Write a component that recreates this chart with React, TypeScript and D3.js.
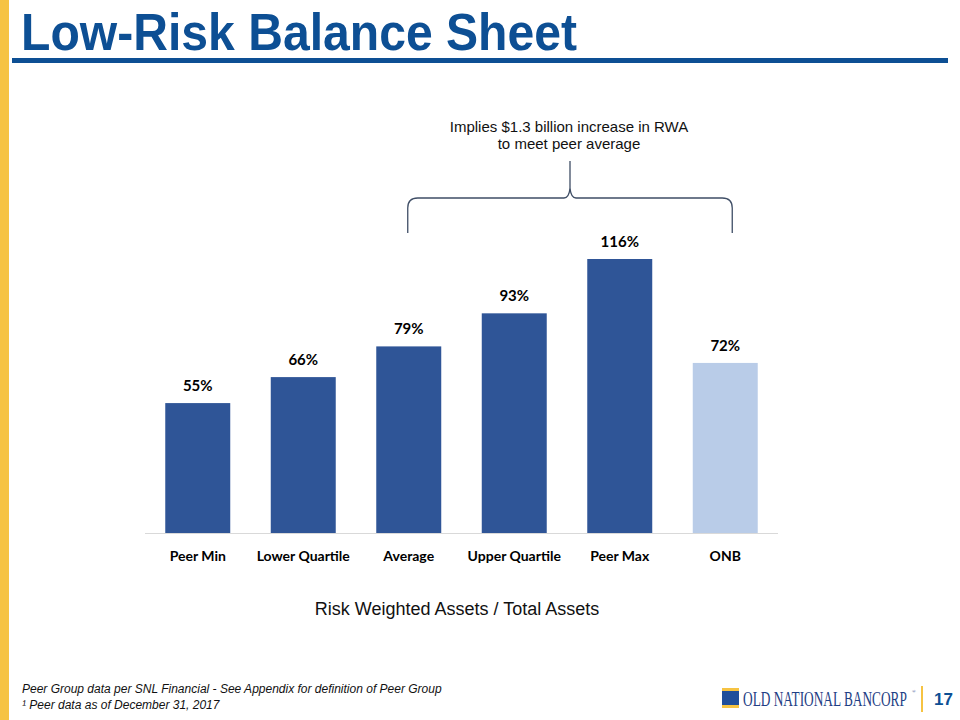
import * as d3 from 'd3';

const categories = ['Peer Min', 'Lower Quartile', 'Average', 'Upper Quartile', 'Peer Max', 'ONB'];
const values = [55, 66, 79, 93, 116, 72];
const highlight = ['ONB'];

const titleText = 'Low-Risk Balance Sheet';
const noteLines = ['Implies $1.3 billion increase in RWA', 'to meet peer average'];
const axisTitle = 'Risk Weighted Assets / Total Assets';
const footnotes = [
  'Peer Group data per SNL Financial - See Appendix for definition of Peer Group',
  '¹ Peer data as of December 31, 2017',
];

const W = 960;
const H = 720;
const BLUE = '#0D4F94';
const BAR = '#2F5597';
const BAR_LIGHT = '#B9CCE8';
const GOLD = '#F6C342';

export default function App() {
  // chart area
  const x = d3.scaleBand<string>()
    .domain(categories)
    .range([145, 778])
    .paddingInner(0.384)
    .paddingOuter(0.192);

  const y = d3.scaleLinear()
    .domain([0, 116])
    .range([533, 259]);

  const labelFont = 'Lato, "Open Sans", sans-serif';

  // brace from Average to ONB
  const bx0 = (x('Average') ?? 0) + x.bandwidth() / 2 - 1;
  const bx1 = (x('ONB') ?? 0) + x.bandwidth() / 2 + 7;
  const bmid = (bx0 + bx1) / 2;
  const byTop = 198;
  const byEnd = 233;
  const byPeak = 161;
  const bracePath = [
    `M ${bx0} ${byEnd}`,
    `L ${bx0} ${byTop + 10}`,
    `Q ${bx0} ${byTop} ${bx0 + 10} ${byTop}`,
    `L ${bmid - 6} ${byTop}`,
    `Q ${bmid - 1} ${byTop} ${bmid} ${byTop - 10}`,
    `L ${bmid} ${byPeak}`,
    `M ${bmid} ${byTop - 10}`,
    `Q ${bmid + 1} ${byTop} ${bmid + 6} ${byTop}`,
    `L ${bx1 - 10} ${byTop}`,
    `Q ${bx1} ${byTop} ${bx1} ${byTop + 10}`,
    `L ${bx1} ${byEnd}`,
  ].join(' ');

  return (
    <svg width={W} height={H} viewBox={`0 0 ${W} ${H}`}
      style={{ position: 'absolute', left: 0, top: 0, background: '#fff' }}>
      {/* left accent bar */}
      <rect x={0} y={0} width={9} height={H} fill={GOLD} />

      {/* title */}
      <text x={21} y={50} fill={BLUE} fontFamily='"Liberation Sans", Arial, sans-serif'
        fontWeight="bold" fontSize={52} textLength={556} lengthAdjust="spacingAndGlyphs">
        {titleText}
      </text>
      <rect x={12} y={58} width={936} height={5} fill={BLUE} />

      {/* annotation */}
      {noteLines.map((t, i) => (
        <text key={t} x={569} y={132 + i * 17} textAnchor="middle" fill="#111"
          fontFamily='"Liberation Sans", Arial, sans-serif' fontSize={15}>
          {t}
        </text>
      ))}
      <path d={bracePath} fill="none" stroke="#3F4E66" strokeWidth={1.3} />

      {/* baseline */}
      <line x1={145} x2={778} y1={y(0) + 0.5} y2={y(0) + 0.5} stroke="#D9D9D9" strokeWidth={1} />

      {/* bars */}
      {categories.map((c, i) => (
        <g key={c}>
          <rect x={x(c)} y={y(values[i])} width={x.bandwidth()} height={y(0) - y(values[i])}
            fill={highlight.includes(c) ? BAR_LIGHT : BAR} />
          <text x={(x(c) ?? 0) + x.bandwidth() / 2} y={y(values[i]) - 12}
            textAnchor="middle" fontFamily={labelFont} fontWeight="bold" fontSize={15} fill="#000">
            {values[i]}%
          </text>
          <text x={(x(c) ?? 0) + x.bandwidth() / 2} y={561}
            textAnchor="middle" fontFamily={labelFont} fontWeight="bold" fontSize={14} fill="#000">
            {c}
          </text>
        </g>
      ))}

      {/* axis title */}
      <text x={457} y={615} textAnchor="middle" fill="#111"
        fontFamily='"Liberation Sans", Arial, sans-serif' fontSize={18}>
        {axisTitle}
      </text>

      {/* footnotes */}
      {footnotes.map((t, i) => (
        <text key={t} x={22} y={693 + i * 16} fill="#111" fontStyle="italic"
          fontFamily='"Liberation Sans", Arial, sans-serif' fontSize={12}>
          {t}
        </text>
      ))}

      {/* logo */}
      <rect x={722} y={688} width={17} height={3} fill={GOLD} />
      <rect x={722} y={691} width={17} height={14} fill="#1F4E9A" />
      <rect x={722} y={705} width={17} height={3} fill={GOLD} />
      <g transform="translate(743,706) scale(0.667,1)">
        <text x={0} y={0} fill="#1F3F85" fontFamily='"Liberation Serif", "DejaVu Serif", serif'
          fontSize={20}>
          OLD NATIONAL BANCORP
        </text>
      </g>
      <text x={912} y={693} fill="#1F3F85" fontFamily='"Liberation Serif", serif' fontSize={5}>®</text>
      <rect x={921} y={686} width={2} height={26} fill={GOLD} />
      <text x={934} y={705} fill={BLUE} fontFamily='"Liberation Sans", Arial, sans-serif'
        fontWeight="bold" fontSize={17}>
        17
      </text>
    </svg>
  );
}
